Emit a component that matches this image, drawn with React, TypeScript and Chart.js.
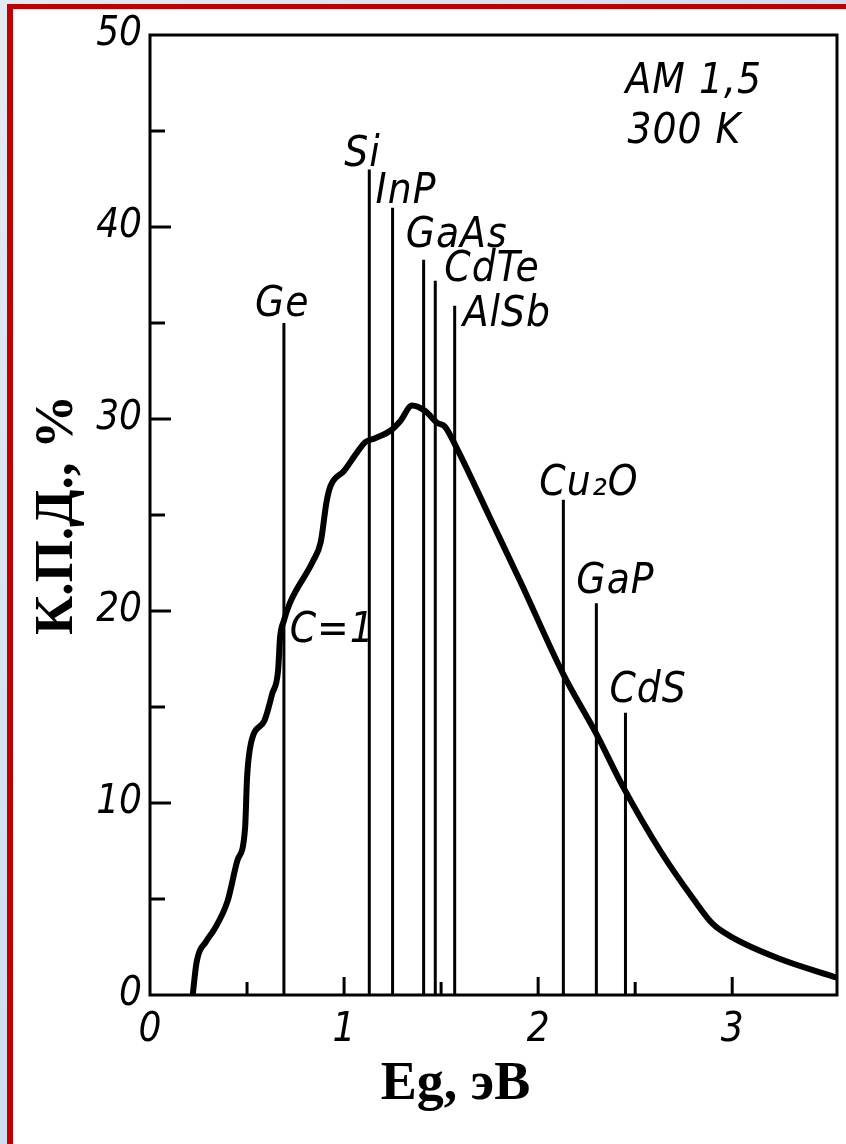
import React, { useEffect, useRef } from "react";
import { Chart, registerables } from "chart.js";

Chart.register(...registerables);

// Efficiency curve (C = 1), Eg in eV vs efficiency in %
const curveEg = [0.22, 0.24, 0.29, 0.33, 0.40, 0.45, 0.49, 0.50, 0.52, 0.59, 0.63, 0.66, 0.67, 0.69, 0.72, 0.84, 0.88, 0.91, 0.93, 1.00, 1.07, 1.11, 1.16, 1.24, 1.29, 1.35, 1.42, 1.48, 1.52, 1.58, 1.75, 1.91, 2.13, 2.30, 2.44, 2.63, 2.80, 2.90, 3.00, 3.24, 3.54];
const curveEff = [0, 1.7, 2.8, 3.4, 4.9, 7.0, 8.7, 11.3, 13.1, 14.3, 15.7, 16.9, 18.6, 19.5, 20.4, 22.6, 23.6, 25.7, 26.5, 27.3, 28.3, 28.8, 29.0, 29.4, 29.9, 30.7, 30.4, 29.8, 29.6, 28.5, 24.9, 21.5, 16.7, 13.6, 10.8, 7.5, 5.0, 3.7, 3.0, 1.9, 0.9];

// Semiconductor materials: band gap and maximum efficiency
const materials = ["Ge", "Si", "InP", "GaAs", "CdTe", "AlSb", "Cu₂O", "GaP", "CdS"];
const materialEg = [0.69, 1.13, 1.25, 1.41, 1.47, 1.57, 2.13, 2.30, 2.45];
const materialEff = [35.0, 43.0, 41.0, 38.3, 37.2, 35.9, 25.8, 20.4, 14.7];

const xTicks = [0, 1, 2, 3];
const xMinorTicks = [0.5, 1.5, 2.5];
const yTicks = [0, 10, 20, 30, 40, 50];
const yMinorTicks = [5, 15, 25, 35, 45];

const xTitle = "Eg, эВ";
const yTitle = "К.П.Д., %";
const curveLabel = "C=1";
const noteLines = ["AM 1,5", "300 K"];

const HAND = "'DejaVu Sans Condensed', 'Liberation Sans Narrow', sans-serif";
const SERIF = "'Liberation Serif', 'DejaVu Serif', serif";

// label nudges in px (layout only)
const labelDx = [-29, -25, -17, -18, 9, 8, -24, -20, -16];
const labelDy = [-7, -3, -5, -13, 0, 20, -5, -10, -11];

const decor = {
  id: "decor",
  afterDatasetsDraw(chart: any) {
    const { ctx, chartArea: a, scales } = chart;
    const x = scales.x;
    const y = scales.y;
    ctx.save();
    ctx.strokeStyle = "#000";
    ctx.fillStyle = "#000";
    ctx.lineWidth = 3;
    ctx.strokeRect(a.left, a.top, a.right - a.left, a.bottom - a.top);

    ctx.beginPath();
    xTicks.forEach((v) => {
      if (v <= 0) return;
      const p = x.getPixelForValue(v);
      ctx.moveTo(p, a.bottom);
      ctx.lineTo(p, a.bottom - 18);
    });
    xMinorTicks.forEach((v) => {
      const p = x.getPixelForValue(v);
      ctx.moveTo(p, a.bottom);
      ctx.lineTo(p, a.bottom - 13);
    });
    yTicks.forEach((v) => {
      if (v <= 0 || v >= 50) return;
      const p = y.getPixelForValue(v);
      ctx.moveTo(a.left, p);
      ctx.lineTo(a.left + 21, p);
    });
    yMinorTicks.forEach((v) => {
      const p = y.getPixelForValue(v);
      ctx.moveTo(a.left, p);
      ctx.lineTo(a.left + 15, p);
    });
    ctx.stroke();

    // material labels
    ctx.font = `italic 42px ${HAND}`;
    ctx.textAlign = "left";
    ctx.textBaseline = "alphabetic";
    try { (ctx as any).letterSpacing = "1px"; } catch (e) {}
    materials.forEach((m, i) => {
      const px = x.getPixelForValue(materialEg[i]);
      const py = y.getPixelForValue(materialEff[i]);
      ctx.fillText(m, px + labelDx[i], py + labelDy[i]);
    });

    // curve label
    ctx.fillText(curveLabel, x.getPixelForValue(0.72), y.getPixelForValue(18.4));

    // note
    ctx.font = `italic 42px ${HAND}`;
    ctx.fillText(noteLines[0], x.getPixelForValue(2.45), y.getPixelForValue(47.0));
    ctx.fillText(noteLines[1], x.getPixelForValue(2.46), y.getPixelForValue(44.4));
    try { (ctx as any).letterSpacing = "0px"; } catch (e) {}

    // axis titles
    ctx.font = `bold 54px ${SERIF}`;
    ctx.textAlign = "center";
    ctx.textBaseline = "middle";
    ctx.fillText(xTitle, (a.left + a.right) / 2 - 38, a.bottom + 90);
    ctx.save();
    ctx.translate(a.left - 92, (a.top + a.bottom) / 2);
    ctx.rotate(-Math.PI / 2);
    ctx.fillText(yTitle, 0, 0);
    ctx.restore();

    ctx.restore();
  },
};

export default function App() {
  const ref = useRef<HTMLCanvasElement | null>(null);

  useEffect(() => {
    const canvas = ref.current;
    if (!canvas) return;
    const datasets: any[] = [
      {
        data: curveEg.map((v, i) => ({ x: v, y: curveEff[i] })),
        borderColor: "#000",
        borderWidth: 6,
        pointRadius: 0,
        cubicInterpolationMode: "monotone",
        fill: false,
      },
    ];
    materials.forEach((m, i) => {
      datasets.push({
        label: m,
        data: [
          { x: materialEg[i], y: 0 },
          { x: materialEg[i], y: materialEff[i] },
        ],
        borderColor: "#000",
        borderWidth: 3,
        pointRadius: 0,
        fill: false,
      });
    });

    const chart = new Chart(canvas, {
      type: "line",
      data: { datasets },
      options: {
        animation: false,
        responsive: false,
        maintainAspectRatio: false,
        layout: { padding: { left: 0, top: 35, right: 9, bottom: 0 } },
        plugins: { legend: { display: false }, tooltip: { enabled: false }, title: { display: false } },
        scales: {
          x: {
            type: "linear",
            min: 0,
            max: 3.54,
            afterBuildTicks: (s: any) => { s.ticks = xTicks.map((v) => ({ value: v })); },
            afterFit: (s: any) => { s.height = 149; },
            grid: { display: false, drawTicks: false },
            border: { display: false },
            ticks: {
              color: "#000",
              padding: 12,
              font: { family: HAND, size: 40, style: "italic" },
              callback: (v: any) => String(v),
            },
          },
          y: {
            type: "linear",
            min: 0,
            max: 50,
            afterBuildTicks: (s: any) => { s.ticks = yTicks.map((v) => ({ value: v })); },
            afterFit: (s: any) => { s.width = 150; },
            grid: { display: false, drawTicks: false },
            border: { display: false },
            ticks: {
              color: "#000",
              padding: 8,
              font: { family: HAND, size: 40, style: "italic" },
              callback: (v: any) => String(v),
            },
          },
        },
      },
      plugins: [decor],
    } as any);
    return () => chart.destroy();
  }, []);

  return (
    <div
      style={{
        position: "fixed",
        left: 0,
        top: 0,
        width: 846,
        height: 1144,
        background: "linear-gradient(to bottom right, #e4eaf2, #b4d2ee)",
        overflow: "hidden",
      }}
    >
      <div style={{ position: "absolute", left: 7, top: 4, right: 0, bottom: 0, background: "#c00000" }} />
      <div style={{ position: "absolute", left: 13, top: 9, right: 0, bottom: 0, background: "#ffffff" }} />
      <canvas
        ref={ref}
        width={846}
        height={1144}
        style={{ position: "absolute", left: 0, top: 0, width: 846, height: 1144 }}
      />
    </div>
  );
}
